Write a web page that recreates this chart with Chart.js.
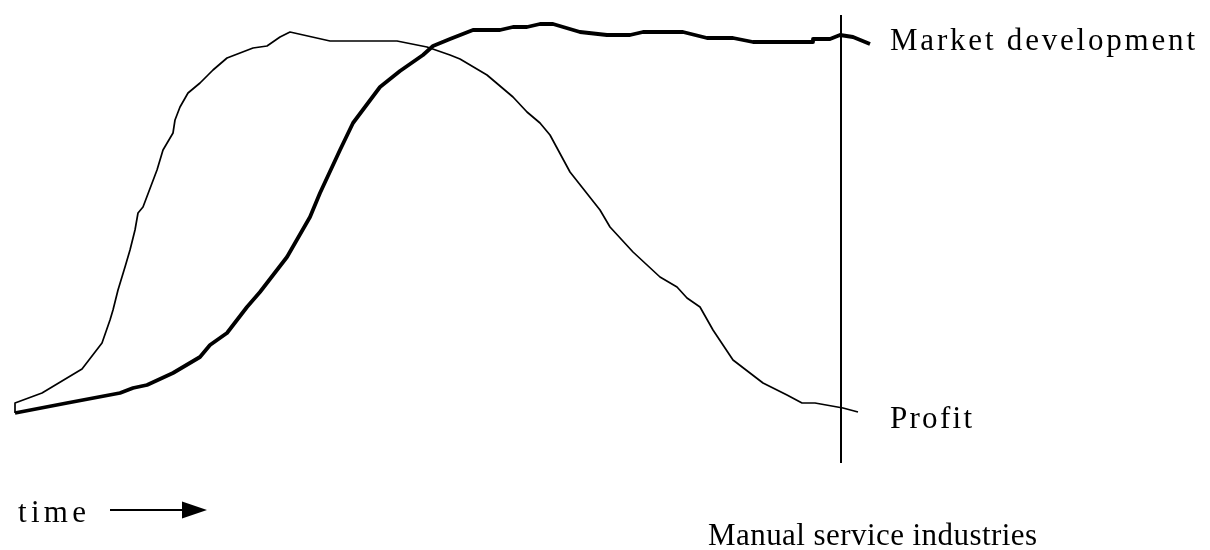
<!DOCTYPE html>
<html>
<head>
<meta charset="utf-8">
<script src="https://cdn.jsdelivr.net/npm/chart.js@4.4.0/dist/chart.umd.min.js"></script>
<style>
    html, body { margin: 0; padding: 0; background: #fff; }
    #wrap { width: 1210px; height: 550px; position: relative; }
</style>
</head>
<body>
<div id="wrap"><canvas id="chart"></canvas></div>
<script>
// --- data (time units on x, level on y) ---
const profitX = [1.5, 1.5, 4.2, 8.2, 10.2, 11.0, 11.3, 11.8, 12.5, 13.0, 13.5, 13.8, 14.3, 15.7, 16.3, 17.3, 17.5, 18.0, 18.8, 20.0,
    21.3, 22.7, 25.3, 26.7, 28.0, 29.0, 33.0, 39.7, 42.7, 45.0, 46.0, 48.7, 51.3, 52.7, 54.0, 55.0, 57.0, 60.0, 61.0, 63.3,
    66.0, 67.7, 68.7, 70.0, 71.3, 73.3, 76.3, 78.7, 80.2, 81.5, 84.3, 85.8];
const profitY = [13.7, 14.7, 15.7, 18.1, 20.7, 23.0, 24.0, 26.0, 28.3, 30.0, 32.0, 33.7, 34.3, 38.0, 40.0, 41.7, 43.0, 44.3, 45.7, 46.7,
    48.0, 49.2, 50.2, 50.4, 51.3, 51.8, 50.9, 50.9, 50.3, 49.5, 49.1, 47.5, 45.3, 43.8, 42.7, 41.5, 37.8, 34.0, 32.3, 29.8,
    27.3, 26.3, 25.2, 24.3, 22.0, 19.0, 16.7, 15.5, 14.7, 14.7, 14.2, 13.8];

const marketX = [1.5, 6.7, 12.0, 13.3, 14.7, 17.3, 20.0, 21.0, 22.7, 24.7, 26.0, 28.7, 31.0, 32.0, 34.0, 35.3, 38.0, 40.0, 42.3, 43.3,
    45.0, 47.3, 50.0, 51.3, 52.7, 54.0, 55.3, 58.0, 60.7, 63.0, 64.3, 68.3, 70.7, 73.3, 75.3, 81.3, 81.3, 83.0, 84.0, 85.3, 87.0];
const marketY = [13.7, 14.7, 15.7, 16.2, 16.5, 17.7, 19.3, 20.5, 21.7, 24.3, 25.8, 29.3, 33.3, 35.7, 40.0, 42.7, 46.3, 47.9, 49.5, 50.4,
    51.1, 52.0, 52.0, 52.3, 52.3, 52.6, 52.6, 51.8, 51.5, 51.5, 51.8, 51.8, 51.2, 51.2, 50.8, 50.8, 51.1, 51.1, 51.5, 51.3, 50.6];

const markerX = [84.1, 84.1];
const markerY = [53.5, 8.7];

const arrowX = [11.0, 20.7];
const arrowY = [4.0, 4.0];

// text labels: [text, x, baseline y, width (time units), font px]
const labels = [
    ['Market development', 89.0, 50.0, 30.5, 31],
    ['Profit', 89.0, 12.2, 8.2, 31],
    ['Manual service industries', 70.8, 0.5, 32.9, 31],
    ['time', 1.8, 2.8, 6.8, 31]
];

function toPoints(xs, ys) {
    return xs.map((x, i) => ({ x: x, y: ys[i] }));
}

// draw arrow + labels through the chart scales
const decorPlugin = {
    id: 'decor',
    afterDatasetsDraw(chart) {
        const ctx = chart.ctx;
        const sx = chart.scales.x, sy = chart.scales.y;
        ctx.save();
        ctx.fillStyle = '#000';
        ctx.strokeStyle = '#000';

        // time arrow
        const ax0 = sx.getPixelForValue(arrowX[0]);
        const ax1 = sx.getPixelForValue(arrowX[1]);
        const ay = sy.getPixelForValue(arrowY[0]);
        const headLen = 25, headHalf = 8.5;
        ctx.lineWidth = 2;
        ctx.beginPath();
        ctx.moveTo(ax0, ay);
        ctx.lineTo(ax1 - headLen + 2, ay);
        ctx.stroke();
        ctx.beginPath();
        ctx.moveTo(ax1, ay);
        ctx.lineTo(ax1 - headLen, ay - headHalf);
        ctx.lineTo(ax1 - headLen, ay + headHalf);
        ctx.closePath();
        ctx.fill();

        // labels, spaced out to the reference widths
        ctx.textBaseline = 'alphabetic';
        ctx.textAlign = 'left';
        labels.forEach(([txt, x, y, w, size]) => {
            ctx.font = size + 'px "Liberation Serif", "DejaVu Serif", serif';
            const px = sx.getPixelForValue(x);
            const py = sy.getPixelForValue(y);
            const target = sx.getPixelForValue(x + w) - px;
            const chars = txt.split('');
            const natural = chars.reduce((s, ch) => s + ctx.measureText(ch).width, 0);
            const gap = chars.length > 1 ? (target - natural) / (chars.length - 1) : 0;
            let cx = px;
            chars.forEach(ch => {
                ctx.fillText(ch, cx, py);
                cx += ctx.measureText(ch).width + gap;
            });
        });
        ctx.restore();
    }
};

new Chart(document.getElementById('chart'), {
    type: 'scatter',
    data: {
        datasets: [
            {
                label: 'Profit',
                data: toPoints(profitX, profitY),
                showLine: true,
                borderColor: '#000',
                borderWidth: 1.7,
                pointRadius: 0,
                borderJoinStyle: 'round',
                tension: 0
            },
            {
                label: 'Market development',
                data: toPoints(marketX, marketY),
                showLine: true,
                borderColor: '#000',
                borderWidth: 3.8,
                pointRadius: 0,
                borderJoinStyle: 'round',
                tension: 0
            },
            {
                label: 'marker',
                data: toPoints(markerX, markerY),
                showLine: true,
                borderColor: '#000',
                borderWidth: 2,
                pointRadius: 0,
                tension: 0
            }
        ]
    },
    options: {
        responsive: true,
        maintainAspectRatio: false,
        animation: false,
        layout: { padding: 0 },
        plugins: {
            legend: { display: false },
            tooltip: { enabled: false }
        },
        scales: {
            x: { type: 'linear', min: 0, max: 121, display: false },
            y: { type: 'linear', min: 0, max: 55, display: false }
        }
    },
    plugins: [decorPlugin]
});
</script>
</body>
</html>
